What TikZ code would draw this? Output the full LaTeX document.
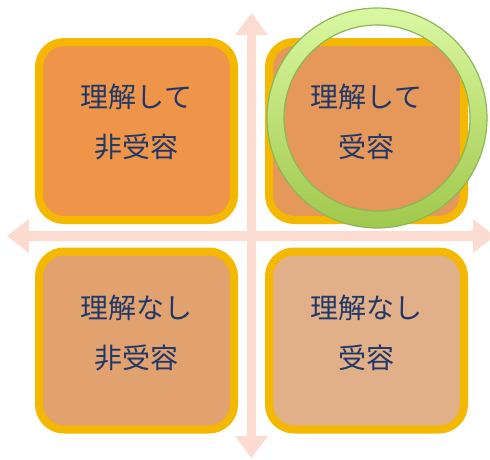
\documentclass[tikz,border=0pt]{standalone}
\usepackage{fontspec}
\newfontfamily\jp{Noto Sans CJK JP}
\usetikzlibrary{shadows}
\definecolor{arrowpink}{HTML}{FCDCD0}
\definecolor{boxedge}{HTML}{F5B800}
\definecolor{fillA}{HTML}{EE9549}
\definecolor{fillB}{HTML}{E5985A}
\definecolor{fillC}{HTML}{E1A26F}
\definecolor{fillD}{HTML}{E1B088}
\definecolor{navy}{HTML}{1F3868}
\definecolor{ringtop}{HTML}{DAF8A2}
\definecolor{ringbot}{HTML}{A0C84C}
\definecolor{ringedge}{HTML}{8DB656}
\tikzset{
  quadbox/.style={draw=boxedge, line width=8pt, rounded corners=25pt,
    minimum width=195pt, minimum height=178pt, inner sep=0pt,
    drop shadow={shadow xshift=2pt, shadow yshift=-3pt, opacity=0.3, fill=black!60}},
  quadtext/.style={font=\jp\fontsize{28}{50}\selectfont, text=navy, align=center, inner sep=0pt}
}
\begin{document}
\begin{tikzpicture}[x=1pt,y=-1pt]
\useasboundingbox (0,0) rectangle (490,459);
\clip (0,0) rectangle (490,459);
% cross arrows
\fill[arrowpink] (251.5,13) -- (268,35) -- (256,35) -- (256,436) -- (268,436) -- (251.5,458)
  -- (235,436) -- (247,436) -- (247,35) -- (235,35) -- cycle;
\fill[arrowpink] (7,236) -- (29,219) -- (29,231) -- (473,231) -- (473,219) -- (495,236)
  -- (473,253) -- (473,241) -- (29,241) -- (29,253) -- cycle;
% boxes
\node[quadbox, fill=fillA] (tl) at (136.5,131) {};
\node[quadbox, fill=fillB] (tr) at (366.5,131) {};
\node[quadbox, fill=fillC] (bl) at (136.5,340.5) {};
\node[quadbox, fill=fillD] (br) at (366.5,340.5) {};
\node[quadtext] (tlt) at (136.5,122) {理解して\\非受容};
\node[quadtext] (trt) at (366.5,122) {理解して\\受容};
\node[quadtext] (blt) at (136.5,333) {理解なし\\非受容};
\node[quadtext] (brt) at (366.5,333) {理解なし\\受容};
% ring
\shade[even odd rule, top color=ringtop, bottom color=ringbot]
  (377,118) circle (110pt) (377,118) circle (93pt);
\draw[ringedge, line width=1.2pt] (377,118) circle (110pt);
\draw[ringedge, line width=1.2pt] (377,118) circle (93pt);
\end{tikzpicture}
\end{document}
